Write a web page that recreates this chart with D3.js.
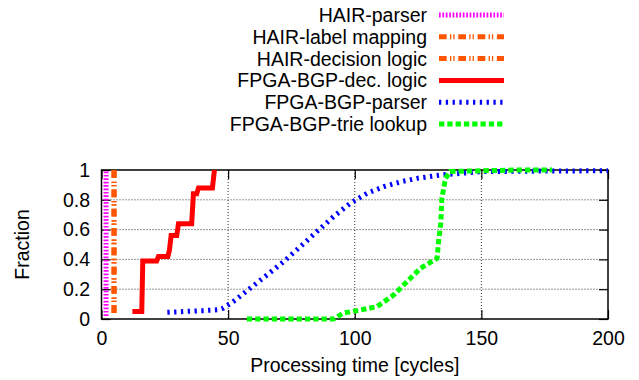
<!DOCTYPE html>
<html>
<head>
<meta charset="utf-8">
<script src="https://cdn.jsdelivr.net/npm/d3@7"></script>
<style>
  html, body { margin: 0; padding: 0; background: #fff; }
  svg { display: block; }
  text { font-family: "Liberation Sans", Arial, Helvetica, sans-serif; }
</style>
</head>
<body>
<svg id="chart" width="639" height="380"></svg>
<script>
// ---------- data ----------
const xTicks = [0, 50, 100, 150, 200];
const yTicks = [0, 0.2, 0.4, 0.6, 0.8, 1];
const xLabel = "Processing time [cycles]";
const yLabel = "Fraction";

const seriesNames = [
  "HAIR-parser",
  "HAIR-label mapping",
  "HAIR-decision logic",
  "FPGA-BGP-dec. logic",
  "FPGA-BGP-parser",
  "FPGA-BGP-trie lookup"
];

const hairParserX = [1.8, 1.8];
const hairParserY = [0.02, 1.0];

const hairLabelX = [4.9, 4.9];
const hairLabelY = [0.04, 1.0];

const hairDecisionX = [5.0, 5.0];
const hairDecisionY = [0.04, 1.0];

const fpgaDecX = [12.2, 15.9, 16.3, 21.8, 22.5, 26.2, 26.8, 27.5, 29.7, 30.4, 35.6, 36.3, 37.6, 38.3, 43.8, 44.6];
const fpgaDecY = [0.05, 0.05, 0.39, 0.39, 0.42, 0.42, 0.46, 0.56, 0.56, 0.64, 0.64, 0.84, 0.84, 0.88, 0.88, 1.0];

const fpgaParserX = [26, 30, 35, 40, 46, 48, 52, 58.7, 65.3, 71.9, 78.5, 85, 91.6, 98.2, 104.8, 111.4, 118, 124.6, 133.8, 136.4, 150, 175, 200];
const fpgaParserY = [0.045, 0.048, 0.052, 0.056, 0.062, 0.072, 0.116, 0.206, 0.295, 0.385, 0.485, 0.586, 0.687, 0.776, 0.843, 0.888, 0.92, 0.944, 0.966, 0.97, 0.989, 0.993, 0.995];

const fpgaTrieX = [57.4, 70, 80, 91.6, 95.6, 102.2, 108.8, 115.3, 120.6, 125.9, 132.5, 133.1, 134, 134.4, 135.8, 137.7, 150, 165, 178];
const fpgaTrieY = [0, 0, 0, 0, 0.04, 0.06, 0.083, 0.16, 0.25, 0.34, 0.407, 0.52, 0.65, 0.81, 0.944, 0.99, 0.995, 1.0, 1.0];

// ---------- styles ----------
const styles = [
  { color: "#ff00ff", dash: "1.7,1.7" },
  { color: "#ff5500", dash: "7.7,3.3,1.3,2,1.3,3.7" },
  { color: "#ff5500", dash: "7.7,3.3,1.3,2,1.3,3.7" },
  { color: "#ff0000", dash: null },
  { color: "#0000ff", dash: "2.3,4.5" },
  { color: "#00ff00", dash: "5.3,3" }
];

const seriesData = [
  [hairParserX, hairParserY],
  [hairLabelX, hairLabelY],
  [hairDecisionX, hairDecisionY],
  [fpgaDecX, fpgaDecY],
  [fpgaParserX, fpgaParserY],
  [fpgaTrieX, fpgaTrieY]
].map(([xs, ys]) => xs.map((v, i) => [v, ys[i]]));

// ---------- layout ----------
(function () {
const svg = d3.select("#chart");
const pL = 101.5, pR = 608, pT = 170, pB = 319;
const x = d3.scaleLinear().domain([0, 200]).range([pL, pR]);
const y = d3.scaleLinear().domain([0, 1]).range([pB, pT]);
const FONT = 19.5;
const LW = 5;

// grid
const grid = svg.append("g");
xTicks.filter(t => t > 0 && t < 200).forEach(t => {
  grid.append("line").attr("x1", x(t)).attr("x2", x(t)).attr("y1", pT).attr("y2", pB)
    .attr("stroke", "#333").attr("stroke-width", 1).attr("stroke-dasharray", "1,2");
});
yTicks.filter(t => t > 0 && t < 1).forEach(t => {
  grid.append("line").attr("x1", pL).attr("x2", pR).attr("y1", y(t)).attr("y2", y(t))
    .attr("stroke", "#333").attr("stroke-width", 1).attr("stroke-dasharray", "1,2");
});

// axes
function styleAxis(g) {
  g.select(".domain").remove();
  g.selectAll(".tick line").attr("stroke", "#000").attr("stroke-width", 1.2);
  g.selectAll(".tick text").attr("font-size", FONT).attr("fill", "#000")
    .attr("font-family", "'Liberation Sans', Arial, sans-serif");
}
svg.append("g").attr("transform", `translate(0,${pB})`)
  .call(d3.axisBottom(x).tickValues(xTicks).tickSize(-9).tickPadding(12.5).tickFormat(d3.format("d")))
  .call(styleAxis);
svg.append("g").attr("transform", `translate(0,${pT})`)
  .call(d3.axisTop(x).tickValues(xTicks).tickSize(-9).tickFormat(""))
  .call(styleAxis);
svg.append("g").attr("transform", `translate(${pL},0)`)
  .call(d3.axisLeft(y).tickValues(yTicks).tickSize(-9).tickPadding(11.5).tickFormat(d => String(+d.toFixed(1))))
  .call(styleAxis);
svg.append("g").attr("transform", `translate(${pR},0)`)
  .call(d3.axisRight(y).tickValues(yTicks).tickSize(-9).tickFormat(""))
  .call(styleAxis);

// border
svg.append("rect").attr("x", pL).attr("y", pT).attr("width", pR - pL).attr("height", pB - pT)
  .attr("fill", "none").attr("stroke", "#000").attr("stroke-width", 1.5);

// series
const line = d3.line().x(d => x(d[0])).y(d => y(d[1]));
seriesData.forEach((data, i) => {
  svg.append("path").datum(data).attr("d", line)
    .attr("fill", "none").attr("stroke", styles[i].color).attr("stroke-width", LW)
    .attr("stroke-linejoin", "miter").attr("stroke-linecap", "butt")
    .attr("stroke-dasharray", styles[i].dash);
});

// legend
const legend = svg.append("g");
seriesNames.forEach((name, i) => {
  const cy = 15 + i * 21.8;
  legend.append("text").attr("x", 427).attr("y", cy + 7).attr("text-anchor", "end")
    .attr("font-size", FONT).attr("fill", "#000").text(name);
  legend.append("line").attr("x1", 439).attr("x2", 504).attr("y1", cy).attr("y2", cy)
    .attr("stroke", styles[i].color).attr("stroke-width", LW)
    .attr("stroke-dasharray", styles[i].dash);
});

// axis labels
svg.append("text").attr("x", (pL + pR) / 2).attr("y", 372).attr("text-anchor", "middle")
  .attr("font-size", FONT).attr("fill", "#000").text(xLabel);
svg.append("text").attr("transform", `translate(28.5,${(pT + pB) / 2}) rotate(-90)`)
  .attr("text-anchor", "middle").attr("font-size", FONT).attr("fill", "#000").text(yLabel);
})();
</script>
</body>
</html>
